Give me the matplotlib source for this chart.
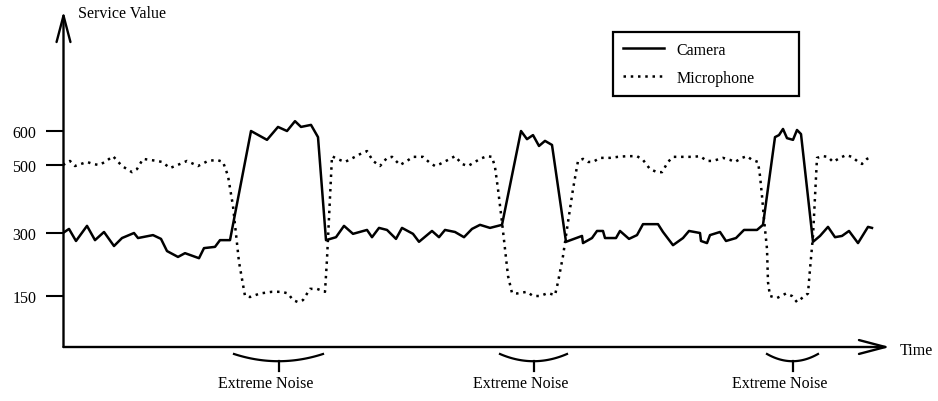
import numpy as np
import matplotlib
matplotlib.use('Agg')
import matplotlib.pyplot as plt
from matplotlib.ticker import NullLocator

plt.rcParams['font.family'] = ['Liberation Serif', 'DejaVu Serif']

# time stamps (arbitrary units) and service values
camera_t = [63, 69, 76, 87, 95, 104, 114, 122, 134, 138, 153, 161, 167, 178, 185, 199, 204, 215, 220, 230,
            251, 267, 278, 287, 295, 301, 311, 318,
            326, 336, 344, 353, 367, 372, 379, 387, 396, 402, 413, 419, 432, 439, 445, 455, 464, 472, 480, 490, 502,
            521, 527, 533, 539, 545, 552,
            566, 582, 583, 592, 597, 603, 605, 616, 620, 629, 637, 643, 658, 663, 673, 683, 689, 700, 701, 707, 710,
            720, 726, 736, 744, 757, 763,
            775, 779, 783, 787, 793, 797, 801,
            813, 820, 828, 835, 842, 849, 858, 868, 872]
camera_v = [300, 312, 281, 321, 283, 303, 269, 288, 300, 288, 295, 286, 257, 243, 252, 240, 264, 267, 283, 283,
            600, 574, 612, 600, 629, 612, 618, 582,
            283, 290, 321, 298, 309, 290, 315, 309, 286, 315, 298, 279, 306, 290, 309, 303, 290, 312, 324, 315, 324,
            600, 576, 588, 556, 571, 559,
            279, 293, 276, 288, 306, 306, 288, 288, 306, 286, 295, 326, 326, 303, 271, 288, 306, 300, 281, 276, 295,
            303, 281, 288, 309, 309, 324,
            582, 588, 606, 579, 574, 603, 591,
            279, 293, 318, 290, 293, 306, 276, 318, 315]

mic_t = [63, 70, 75, 87, 93, 99, 105, 113, 122, 132, 137, 143, 157, 162, 170, 180, 187, 198, 208, 217, 223,
         228, 233, 239, 245, 250, 260, 272, 282, 288, 293, 298, 303, 310, 317, 325, 327,
         332, 337, 345, 353, 360, 367, 373, 380, 387, 392, 400, 407, 413, 423, 430, 435, 440, 450, 455, 462,
         468, 475, 480, 487, 492, 495, 498, 502, 505, 508, 512, 517, 527, 533, 540, 548, 555, 558, 563, 568, 573,
         578, 583, 588, 593, 600, 610, 618, 627, 637, 643, 650, 657, 662, 668, 673, 683, 693, 700, 707, 713,
         723, 730, 735, 742, 747, 752, 758, 760, 762, 764, 767, 768, 770, 777, 786, 792, 797, 802, 808, 810,
         813, 815, 817, 823, 828, 833, 840, 846, 852, 857, 862, 867, 872]
mic_v = [500, 512, 497, 509, 503, 500, 509, 526, 497, 479, 488, 518, 512, 509, 491, 503, 512, 497, 512, 515, 509,
         468, 379, 231, 150, 147, 156, 160, 160, 156, 138, 132, 138, 167, 167, 160, 238,
         526, 518, 509, 521, 532, 541, 512, 497, 521, 524, 500, 512, 524, 524, 506, 497, 503, 518, 526, 503,
         497, 509, 518, 526, 524, 494, 429, 332, 262, 198, 157, 156, 160, 150, 150, 157, 152, 183, 245, 332, 429,
         512, 518, 509, 509, 521, 521, 524, 526, 526, 515, 488, 479, 479, 509, 524, 524, 524, 526, 512, 512,
         521, 515, 509, 521, 526, 515, 509, 468, 409, 341, 262, 183, 150, 144, 156, 150, 132, 144, 156, 214,
         293, 409, 521, 526, 524, 509, 521, 529, 524, 512, 503, 518, 524]

y_ticks = [150, 300, 500, 600]
noise_spans = [(234, 323), (500, 567), (767, 818)]
noise_label = 'Extreme Noise'

# the drawing stretches the band between 150 and 300
y_knots = [0, 150, 300, 953]
y_pos = [0, 51, 114, 336]


def fwd(v):
    return np.interp(v, y_knots, y_pos)


def inv(p):
    return np.interp(p, y_pos, y_knots)


fig = plt.figure(figsize=(9.38, 4.02), dpi=100)
ax = fig.add_axes([63.5 / 938, 54 / 402, (890 - 63.5) / 938, 336 / 402])
ax.set_yscale('function', functions=(fwd, inv))
ax.set_ylim(0, 953)
ax.set_xlim(63.5, 890)

ax.plot(camera_t, camera_v, color='black', lw=1.8, label='Camera')
ax.plot(mic_t, mic_v, color='black', lw=1.8, ls=(0, (1, 1.9)), label='Microphone')

for s in ax.spines.values():
    s.set_visible(False)
ax.set_xticks([])
ax.set_yticks(y_ticks)
ax.yaxis.set_minor_locator(NullLocator())
ax.tick_params(axis='y', length=13, width=1.5, pad=6.5, labelsize=11.5)

# axes drawn as arrows
arrow = dict(arrowstyle='->,head_length=1.9,head_width=0.5', lw=1.7, color='black',
             mutation_scale=10, shrinkA=0, shrinkB=0)
ax.annotate('', xy=(0, 1), xytext=(0, 0), xycoords='axes fraction', arrowprops=arrow)
ax.annotate('', xy=(1, 0), xytext=(0, 0), xycoords='axes fraction', arrowprops=arrow)
ax.text(0.0175, 0.994, 'Service Value', transform=ax.transAxes, ha='left', va='center', fontsize=11.5)
ax.text(1.012, -0.01, 'Time', transform=ax.transAxes, ha='left', va='center', fontsize=11.5)

# braces under the noisy intervals
trans = ax.get_xaxis_transform()
for a, b in noise_spans:
    xs = np.linspace(a, b, 50)
    mid = (a + b) / 2
    half = (b - a) / 2
    ys = -0.0208 - 0.0215 * (1 - ((xs - mid) / half) ** 2)
    ax.plot(xs, ys, transform=trans, clip_on=False, color='black', lw=1.6)
    ax.plot([mid, mid], [-0.0423, -0.0714], transform=trans, clip_on=False, color='black', lw=1.6)
    ax.annotate(noise_label, xy=(mid, -0.107), xycoords=trans, xytext=(-9.5, 0),
                textcoords='offset points', ha='center', va='center', fontsize=11.5)

leg = ax.legend(loc='upper left', bbox_to_anchor=(613 / 938, 1 - 93 / 402, 186 / 938, 60 / 402),
                bbox_transform=fig.transFigure, mode='expand', frameon=True, fancybox=False,
                edgecolor='black', framealpha=1, borderaxespad=0, handlelength=2.6,
                handletextpad=0.75, labelspacing=0.75, borderpad=0.62, fontsize=11.5)
leg.get_frame().set_linewidth(1.6)

fig.savefig('out.png', dpi=100)
